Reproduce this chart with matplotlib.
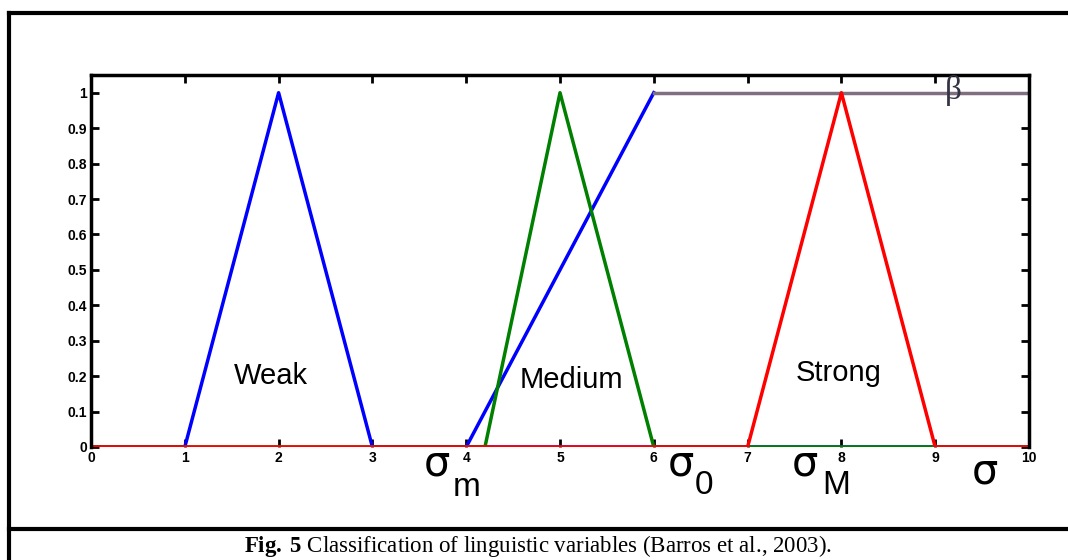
import matplotlib.pyplot as plt
from matplotlib.lines import Line2D

plt.rcParams["mathtext.fontset"] = "custom"
plt.rcParams["mathtext.rm"] = "Liberation Serif"
plt.rcParams["mathtext.bf"] = "Liberation Serif:bold"

# Fonctions d'appartenance (x, y)
weak_x = [0, 1, 2, 3, 10]
weak_y = [0, 0, 1, 0, 0]
beta_rise_x = [4, 6]
beta_rise_y = [0, 1]
beta_flat_x = [6, 10]
beta_flat_y = [1, 1]
medium_x = [0, 4.2, 5, 6, 10]
medium_y = [0, 0, 1, 0, 0]
strong_x = [0, 7, 8, 9, 10]
strong_y = [0, 0, 1, 0, 0]

labels = ["Weak", "Medium", "Strong"]
label_x = [1.92, 5.12, 7.97]
label_y = [0.2, 0.19, 0.21]

xticks = list(range(0, 11))
yticks = [0, 0.1, 0.2, 0.3, 0.4, 0.5, 0.6, 0.7, 0.8, 0.9, 1]
ytick_labels = ["0", "0.1", "0.2", "0.3", "0.4", "0.5", "0.6", "0.7", "0.8", "0.9", "1"]

W, H = 1068, 560
fig = plt.figure(figsize=(W / 100, H / 100), dpi=100)
ax = fig.add_axes([91 / W, 1 - 447 / H, (1029 - 91) / W, (447 - 75) / H])

ax.plot(weak_x, weak_y, color="#0000ff", lw=2.5)
ax.plot(beta_rise_x, beta_rise_y, color="#0000ff", lw=2.5)
ax.plot(beta_flat_x, beta_flat_y, color="#7f6f80", lw=2.5)
ax.plot(medium_x, medium_y, color="#008000", lw=2.5)
ax.plot(strong_x, strong_y, color="#ff0000", lw=2.5)

for lab, lx, ly in zip(labels, label_x, label_y):
    ax.text(lx, ly, lab, fontsize=21, ha="center", va="center", family="Liberation Sans")

ax.set_xlim(0, 10)
ax.set_ylim(0, 1.05)
ax.set_xticks(xticks)
ax.set_yticks(yticks)
ax.set_yticklabels(ytick_labels)
ax.tick_params(direction="in", length=6, width=2, top=True, right=True,
               labelsize=10, pad=3)
for lab in ax.get_xticklabels() + ax.get_yticklabels():
    lab.set_fontweight("bold")
    lab.set_family("Liberation Sans")
for sp in ax.spines.values():
    sp.set_linewidth(2.5)
ax.spines["bottom"].set_visible(False)

# Annotations sigma / beta
def ftext(px, py, s, size, **kw):
    fig.text(px / W, 1 - py / H, s, fontsize=size, ha="center", va="center", **kw)

ftext(437, 463, "σ", 30, family="DejaVu Sans")
ftext(467, 487, "m", 24, family="Liberation Sans")
ftext(681, 463, "σ", 30, family="DejaVu Sans")
ftext(704, 486, "0", 24, family="Liberation Sans")
ftext(805, 464, "σ", 30, family="DejaVu Sans")
ftext(836, 486, "M", 24, family="Liberation Sans")
ftext(985, 471, "σ", 30, family="DejaVu Sans")
ftext(953, 90, "β", 24, family="Liberation Serif", color="#333344")

# Cadre et légende de la figure
lc = dict(color="black", lw=3, transform=fig.transFigure)
fig.add_artist(Line2D([9 / W, 1], [1 - 13 / H, 1 - 13 / H], **lc))
fig.add_artist(Line2D([9 / W, 9 / W], [0, 1 - 13 / H], **lc))
fig.add_artist(Line2D([9 / W, 1], [1 - 529 / H, 1 - 529 / H], **lc))

fig.text(538 / W, 1 - 546 / H,
         r"$\mathbf{Fig.\,5}$ Classification of linguistic variables (Barros et al., 2003).",
         fontsize=16.5, ha="center", va="center", family="Liberation Serif")

fig.savefig("out.png", dpi=100)
